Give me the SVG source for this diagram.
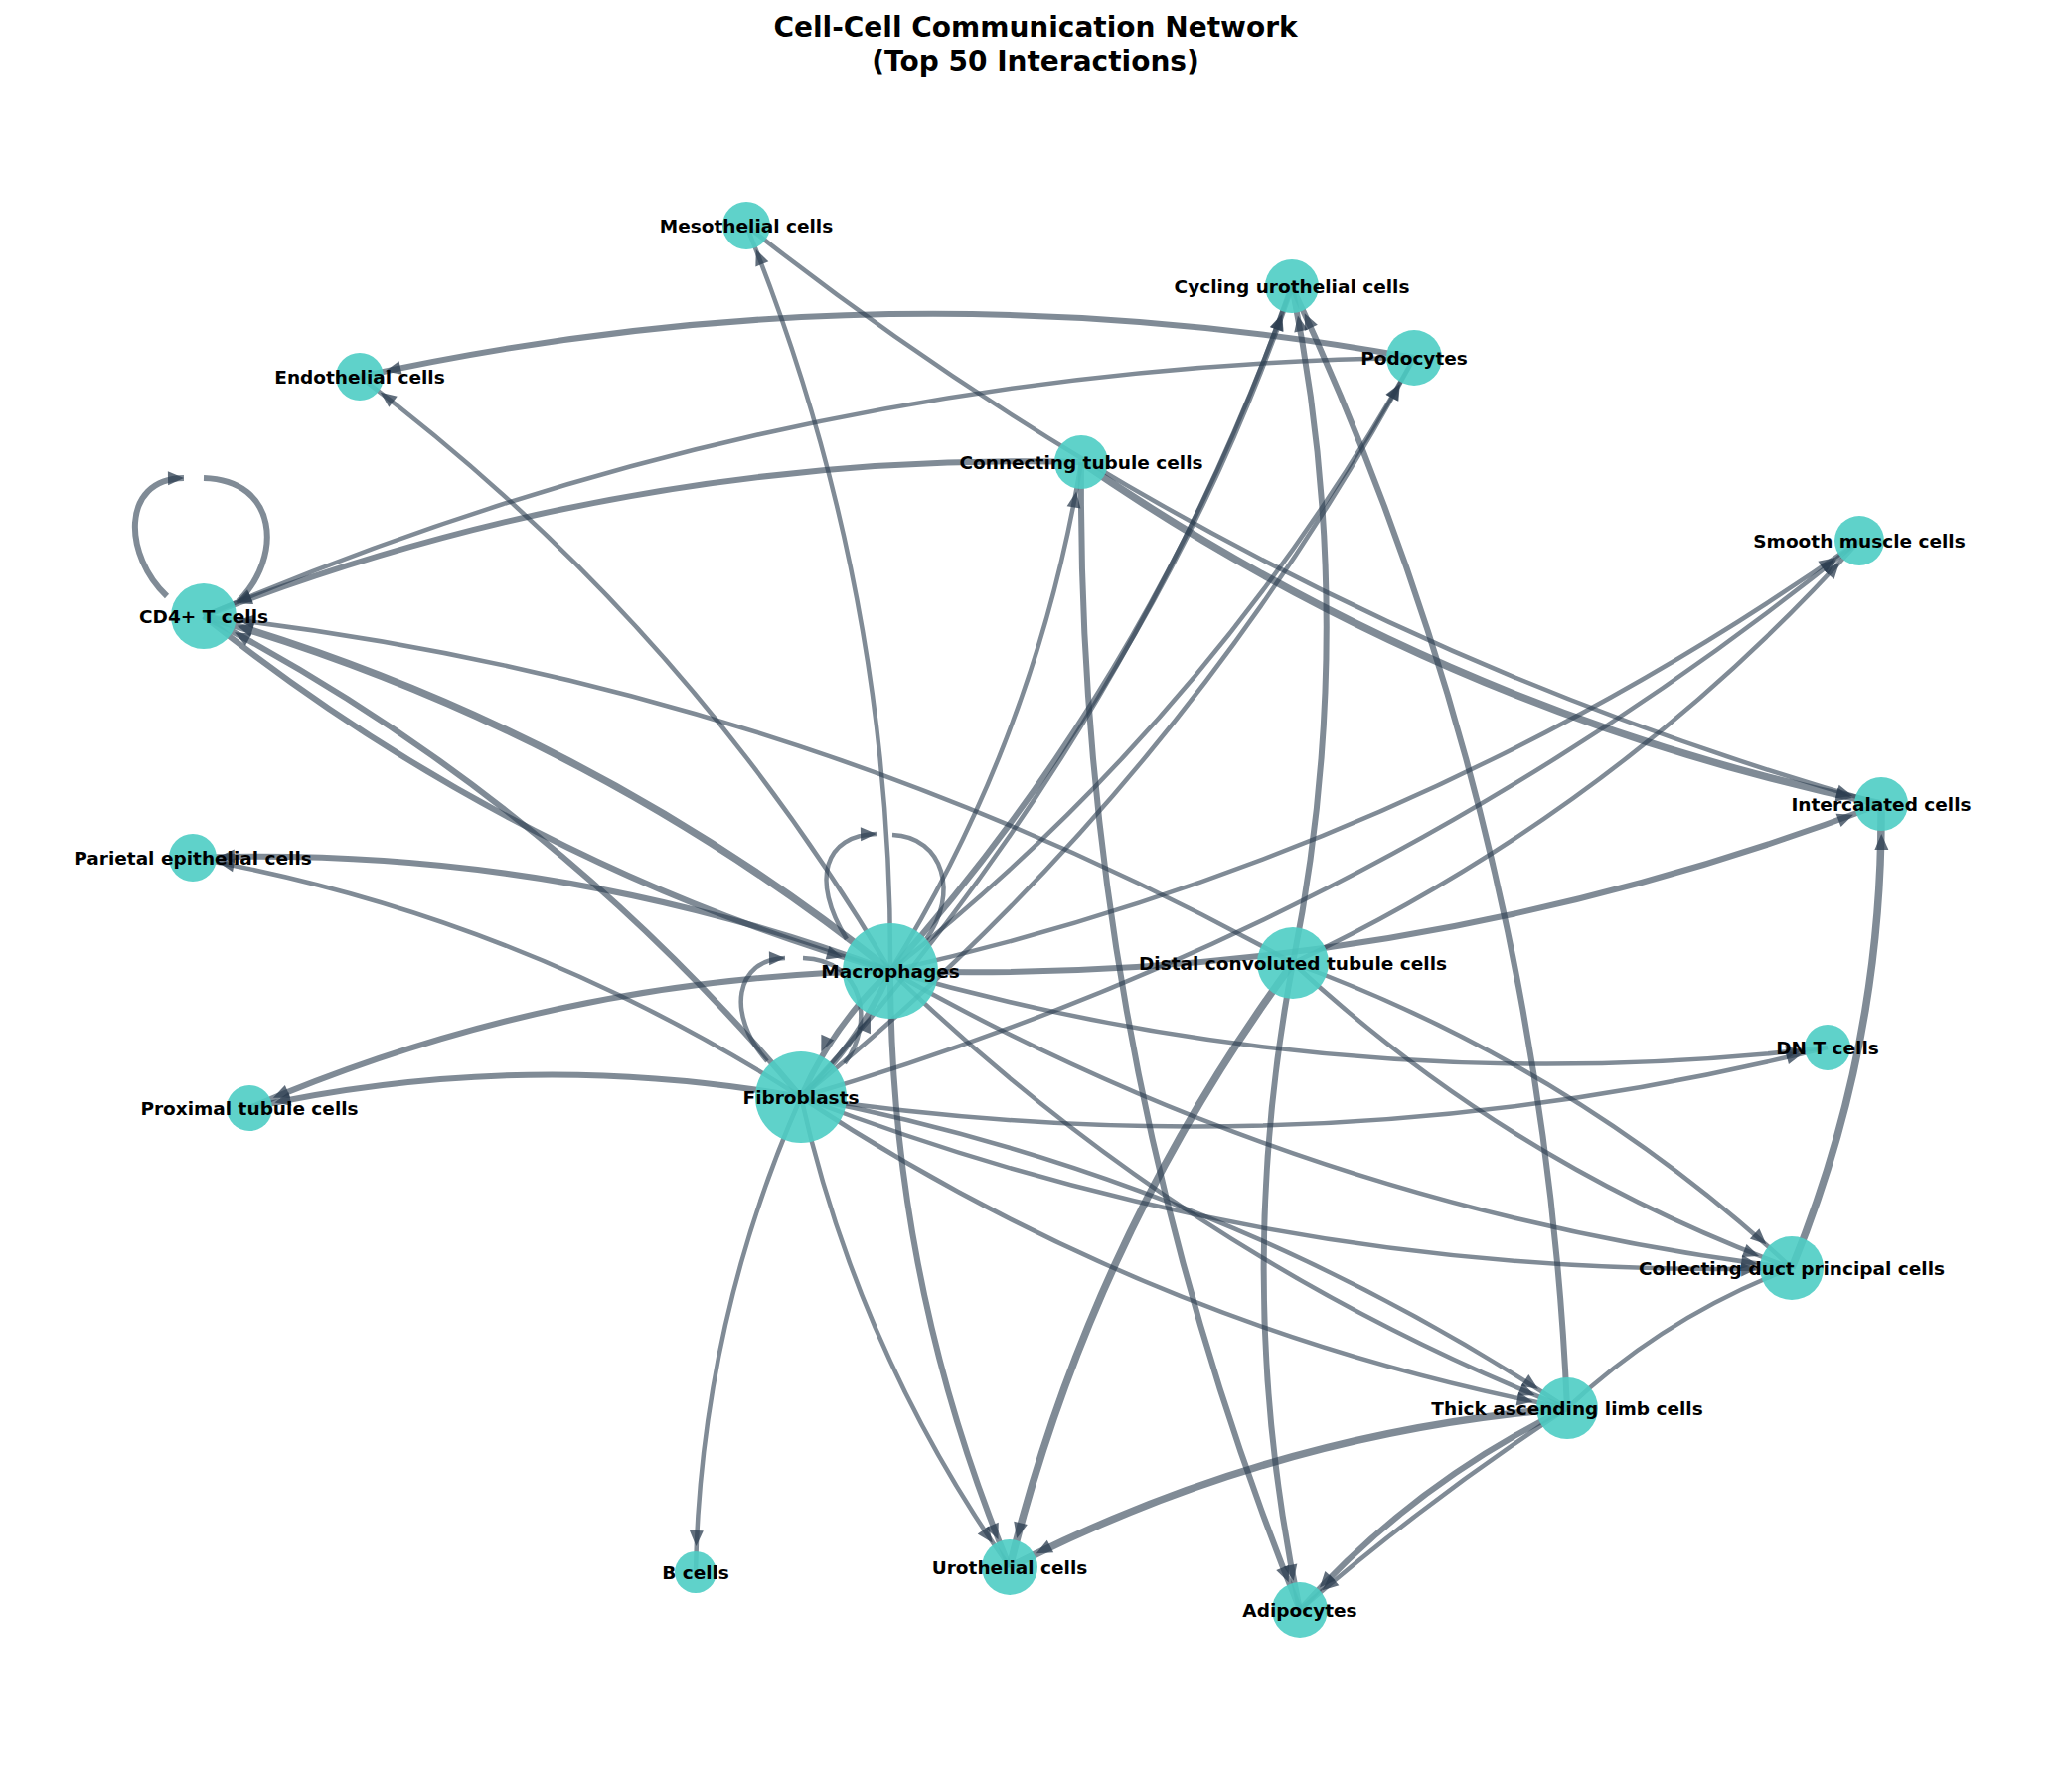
<svg xmlns="http://www.w3.org/2000/svg" width="2085" height="1783" viewBox="0 0 2085 1783">
<style>
.e{fill:none;stroke:#2C3E50;stroke-opacity:0.6;stroke-width:4.5}
.t{stroke-width:6}
.k{stroke-width:7.5}
.n{fill:#4ECDC4;fill-opacity:0.9}
.l{font-family:"DejaVu Sans",sans-serif;font-weight:bold;font-size:18.5px;text-anchor:middle;dominant-baseline:central;fill:#000}
.ti{font-family:"DejaVu Sans",sans-serif;font-weight:bold;font-size:28px;text-anchor:middle;fill:#000}
.a{fill:#2C3E50;fill-opacity:0.75}
.m24{marker-end:url(#m24)}.m28{marker-end:url(#m28)}.m33{marker-end:url(#m33)}.m37{marker-end:url(#m37)}.m48{marker-end:url(#m48)}.m0{marker-end:url(#m0)}
</style>
<defs>
<marker id="m0" markerUnits="userSpaceOnUse" orient="auto" refX="0" refY="0" overflow="visible"><path class="a" d="M-16,-7 L0,0 L-16,7 Z"/></marker>
<marker id="m24" markerUnits="userSpaceOnUse" orient="auto" refX="26" refY="0" overflow="visible"><path class="a" d="M-16,-7 L0,0 L-16,7 Z"/></marker>
<marker id="m28" markerUnits="userSpaceOnUse" orient="auto" refX="30" refY="0" overflow="visible"><path class="a" d="M-16,-7 L0,0 L-16,7 Z"/></marker>
<marker id="m33" markerUnits="userSpaceOnUse" orient="auto" refX="35" refY="0" overflow="visible"><path class="a" d="M-16,-7 L0,0 L-16,7 Z"/></marker>
<marker id="m37" markerUnits="userSpaceOnUse" orient="auto" refX="39" refY="0" overflow="visible"><path class="a" d="M-16,-7 L0,0 L-16,7 Z"/></marker>
<marker id="m48" markerUnits="userSpaceOnUse" orient="auto" refX="50" refY="0" overflow="visible"><path class="a" d="M-16,-7 L0,0 L-16,7 Z"/></marker>
</defs>
<rect width="2085" height="1783" fill="#fff"/>
<text class="ti" x="1042" y="37">Cell-Cell Communication Network</text>
<text class="ti" x="1042" y="71">(Top 50 Interactions)</text>
<g id="edges">
<path class="e t m24" d="M1423,360 Q891,263 362,379"/>
<path class="e m33" d="M1423,360 Q788,368 205,620"/>
<path class="e t m33" d="M1088,465 Q631,454 205,620"/>
<path class="e t m0" d="M168,600 C125,560 120,482 185,481"/>
<path class="e t" d="M205,481 C280,483 285,560 240,605"/>
<path class="e m28" d="M751,227 Q1264,632 1893,809"/>
<path class="e m24" d="M896,977 Q898,588 751,227"/>
<path class="e m24" d="M896,977 Q689,625 362,379"/>
<path class="e t m28" d="M896,977 Q1167,673 1300,288"/>
<path class="e m28" d="M806,1104 Q1135,745 1300,288"/>
<path class="e m28" d="M896,977 Q1221,721 1423,360"/>
<path class="e m28" d="M806,1104 Q1189,794 1423,360"/>
<path class="e t m28" d="M1301,969 Q1369,628 1300,288"/>
<path class="e t m28" d="M1577,1417 Q1551,825 1300,288"/>
<path class="e m28" d="M896,977 Q1043,740 1088,465"/>
<path class="e k m28" d="M1088,465 Q1456,718 1893,809"/>
<path class="e t m28" d="M1088,465 Q1083,1065 1308,1620"/>
<path class="e m28" d="M896,977 Q1427,858 1871,544"/>
<path class="e m28" d="M806,1104 Q1395,931 1871,544"/>
<path class="e m28" d="M1301,969 Q1629,814 1871,544"/>
<path class="e t m28" d="M896,977 Q1411,993 1893,809"/>
<path class="e k m28" d="M1803,1276 Q1895,1052 1893,809"/>
<path class="e m33" d="M1301,969 Q788,685 205,620"/>
<path class="e k m33" d="M896,977 Q586,729 205,620"/>
<path class="e t m48" d="M205,620 Q515,868 896,977"/>
<path class="e t m33" d="M806,1104 Q554,802 205,620"/>
<path class="e t m24" d="M896,977 Q556,850 194,863"/>
<path class="e m24" d="M806,1104 Q524,922 194,863"/>
<path class="e t m24" d="M896,977 Q560,982 251,1115"/>
<path class="e t m24" d="M806,1104 Q527,1054 251,1115"/>
<path class="e m0" d="M852,945 C815,885 830,840 882,839"/>
<path class="e" d="M898,840 C950,842 965,900 932,945"/>
<path class="e m0" d="M772,1068 C730,1020 740,965 790,964"/>
<path class="e" d="M808,964 C870,966 880,1030 850,1070"/>
<path class="e t m48" d="M896,977 Q838,1032 806,1104"/>
<path class="e t m48" d="M806,1104 Q864,1050 896,977"/>
<path class="e m24" d="M896,977 Q1360,1110 1839,1054"/>
<path class="e m24" d="M806,1104 Q1328,1182 1839,1054"/>
<path class="e m33" d="M896,977 Q1320,1217 1803,1276"/>
<path class="e m33" d="M806,1104 Q1287,1290 1803,1276"/>
<path class="e m33" d="M1301,969 Q1521,1173 1803,1276"/>
<path class="e m33" d="M1301,969 Q1583,1072 1803,1276"/>
<path class="e m33" d="M896,977 Q1193,1265 1577,1417"/>
<path class="e m33" d="M806,1104 Q1160,1338 1577,1417"/>
<path class="e m33" d="M806,1104 Q1223,1183 1577,1417"/>
<path class="e" d="M1803,1276 Q1676,1324 1577,1417"/>
<path class="e m24" d="M806,1104 Q705,1332 700,1582"/>
<path class="e m28" d="M806,1104 Q864,1362 1016,1577"/>
<path class="e t m28" d="M896,977 Q896,1289 1016,1577"/>
<path class="e k m28" d="M1301,969 Q1098,1245 1016,1577"/>
<path class="e k m28" d="M1577,1417 Q1281,1441 1016,1577"/>
<path class="e t m28" d="M1301,969 Q1239,1295 1308,1620"/>
<path class="e t m28" d="M1577,1417 Q1422,1492 1308,1620"/>
<path class="e m28" d="M1577,1417 Q1435,1510 1308,1620"/>
</g>
<g id="n-meso"><circle class="n" cx="751" cy="227" r="24"/><text class="l" x="751" y="227">Mesothelial cells</text></g>
<g id="n-endo"><circle class="n" cx="362" cy="379" r="24"/><text class="l" x="362" y="379">Endothelial cells</text></g>
<g id="n-cd4"><circle class="n" cx="205" cy="620" r="33"/><text class="l" x="205" y="620">CD4+ T cells</text></g>
<g id="n-par"><circle class="n" cx="194" cy="863" r="24"/><text class="l" x="194" y="863">Parietal epithelial cells</text></g>
<g id="n-cyc"><circle class="n" cx="1300" cy="288" r="27"/><text class="l" x="1300" y="288">Cycling urothelial cells</text></g>
<g id="n-pod"><circle class="n" cx="1423" cy="360" r="28"/><text class="l" x="1423" y="360">Podocytes</text></g>
<g id="n-ct"><circle class="n" cx="1088" cy="465" r="27"/><text class="l" x="1088" y="465">Connecting tubule cells</text></g>
<g id="n-sm"><circle class="n" cx="1871" cy="544" r="25"/><text class="l" x="1871" y="544">Smooth muscle cells</text></g>
<g id="n-ic"><circle class="n" cx="1893" cy="809" r="27"/><text class="l" x="1893" y="809">Intercalated cells</text></g>
<g id="n-mac"><circle class="n" cx="896" cy="977" r="48"/><text class="l" x="896" y="977">Macrophages</text></g>
<g id="n-fib"><circle class="n" cx="806" cy="1104" r="46"/><text class="l" x="806" y="1104">Fibroblasts</text></g>
<g id="n-prox"><circle class="n" cx="251" cy="1115" r="23"/><text class="l" x="251" y="1115">Proximal tubule cells</text></g>
<g id="n-b"><circle class="n" cx="700" cy="1582" r="21"/><text class="l" x="700" y="1582">B cells</text></g>
<g id="n-uro"><circle class="n" cx="1016" cy="1577" r="28"/><text class="l" x="1016" y="1577">Urothelial cells</text></g>
<g id="n-dis"><circle class="n" cx="1301" cy="969" r="36"/><text class="l" x="1301" y="969">Distal convoluted tubule cells</text></g>
<g id="n-dn"><circle class="n" cx="1839" cy="1054" r="23"/><text class="l" x="1839" y="1054">DN T cells</text></g>
<g id="n-cdp"><circle class="n" cx="1803" cy="1276" r="32"/><text class="l" x="1803" y="1276">Collecting duct principal cells</text></g>
<g id="n-tal"><circle class="n" cx="1577" cy="1417" r="31"/><text class="l" x="1577" y="1417">Thick ascending limb cells</text></g>
<g id="n-adi"><circle class="n" cx="1308" cy="1620" r="28"/><text class="l" x="1308" y="1620">Adipocytes</text></g>
</svg>
